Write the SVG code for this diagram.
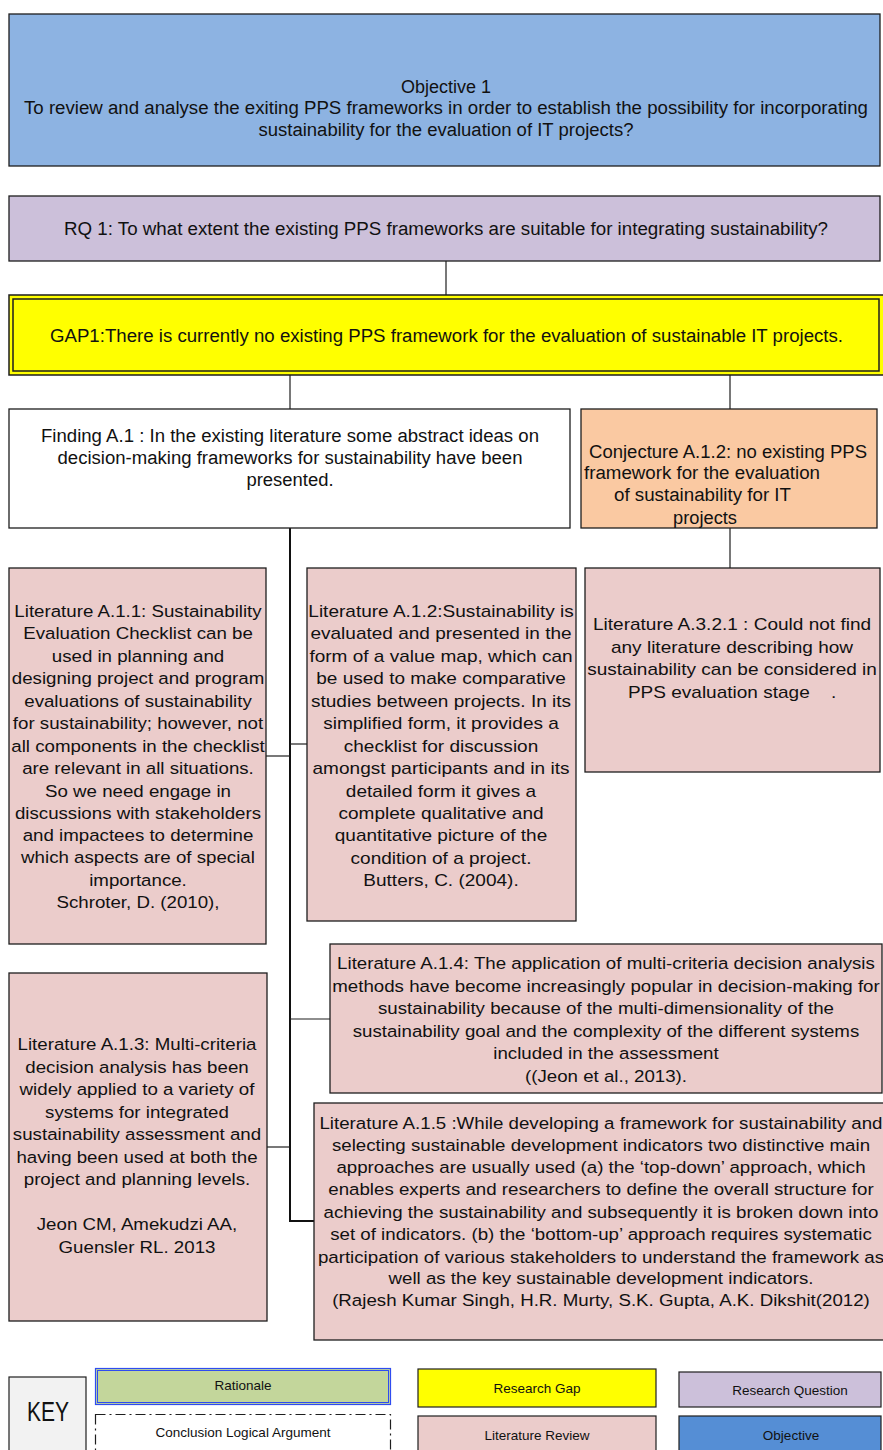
<svg xmlns="http://www.w3.org/2000/svg" width="883" height="1450" viewBox="0 0 883 1450">
  <style>
    .box { stroke: #1e1e1e; stroke-width: 1.3; }
    .obj { fill: #8db3e2; }
    .rq { fill: #ccc0da; }
    .gap { fill: #ffff00; }
    .find { fill: #ffffff; }
    .conj { fill: #fac9a2; }
    .lit { fill: #ebcccb; }
    .narrow { font-family: "Liberation Sans", Arial, sans-serif; font-size: 18px; fill: #111; }
    .t { font-family: "Liberation Sans", Arial, sans-serif; font-size: 17px; fill: #111; }
    .k { font-family: "Liberation Sans", Arial, sans-serif; font-size: 13.5px; fill: #111; text-anchor: middle; }
    .c { text-anchor: middle; }
    .conn { stroke: #1e1e1e; stroke-width: 1.2; fill: none; }
    .trunk { stroke: #111; stroke-width: 2; fill: none; }
  </style>

  <!-- connectors -->
  <g id="connectors">
    <line class="conn" x1="446" y1="261" x2="446" y2="295"/>
    <line class="conn" x1="290" y1="375" x2="290" y2="409"/>
    <line class="conn" x1="730" y1="375" x2="730" y2="409"/>
    <line class="conn" x1="730" y1="528" x2="730" y2="568"/>
    <polyline class="trunk" points="290,528 290,1221 314,1221"/>
    <line class="conn" x1="266" y1="756" x2="290" y2="756"/>
    <line class="conn" x1="290" y1="744" x2="307" y2="744"/>
    <line class="conn" x1="290" y1="1019" x2="330" y2="1019"/>
    <line class="conn" x1="266" y1="1147" x2="290" y2="1147"/>
  </g>

  <!-- objective -->
  <g id="objective1">
    <rect class="box obj" x="9" y="14" width="871" height="152"/>
    <text class="narrow c" x="446" y="93" textLength="90" lengthAdjust="spacingAndGlyphs">Objective 1</text>
    <text class="narrow c" x="446" y="114" textLength="844" lengthAdjust="spacingAndGlyphs">To review and analyse the exiting PPS frameworks in order to establish the possibility for incorporating</text>
    <text class="narrow c" x="446" y="136" textLength="375" lengthAdjust="spacingAndGlyphs">sustainability for the evaluation of IT projects?</text>
  </g>

  <!-- research question -->
  <g id="rq1">
    <rect class="box rq" x="9" y="196" width="871" height="65"/>
    <text class="narrow c" x="446" y="235" textLength="764" lengthAdjust="spacingAndGlyphs">RQ 1: To what extent the existing PPS frameworks are suitable for integrating sustainability?</text>
  </g>

  <!-- research gap -->
  <g id="gap1">
    <rect class="gap" x="9" y="295" width="876" height="80" stroke="#1e1e1e" stroke-width="1.5"/>
    <rect x="13" y="299" width="866" height="72" fill="none" stroke="#1e1e1e" stroke-width="1.5"/>
    <text class="narrow c" x="446.5" y="342" textLength="793" lengthAdjust="spacingAndGlyphs">GAP1:There is currently no existing PPS framework for the evaluation of sustainable IT projects.</text>
  </g>

  <!-- finding -->
  <g id="findingA1">
    <rect class="box find" x="9" y="409" width="561" height="119"/>
    <text class="narrow c" x="290" y="442" textLength="498" lengthAdjust="spacingAndGlyphs">Finding A.1 : In the existing literature some abstract ideas on</text>
    <text class="narrow c" x="290" y="464" textLength="465" lengthAdjust="spacingAndGlyphs">decision-making frameworks for sustainability have been</text>
    <text class="narrow c" x="290" y="486" textLength="87" lengthAdjust="spacingAndGlyphs">presented.</text>
  </g>

  <!-- conjecture -->
  <g id="conjectureA12">
    <rect class="box conj" x="581" y="409" width="296" height="119"/>
    <text class="narrow" x="589" y="458" textLength="278" lengthAdjust="spacingAndGlyphs">Conjecture A.1.2: no existing PPS</text>
    <text class="narrow" x="584" y="479" textLength="236" lengthAdjust="spacingAndGlyphs">framework for the evaluation</text>
    <text class="narrow" x="614" y="501" textLength="177" lengthAdjust="spacingAndGlyphs">of sustainability for IT</text>
    <text class="narrow" x="673" y="524" textLength="64" lengthAdjust="spacingAndGlyphs">projects</text>
  </g>

  <!-- literature A.1.1 -->
  <g id="litA11">
    <rect class="box lit" x="9" y="568" width="257" height="376"/>
    <g class="t c" transform="matrix(1.1,0,0,1,-13.8,0)">
      <text x="138" y="617">Literature A.1.1: Sustainability</text>
      <text x="138" y="639">Evaluation Checklist can be</text>
      <text x="138" y="662">used in planning and</text>
      <text x="138" y="684">designing project and program</text>
      <text x="138" y="707">evaluations of sustainability</text>
      <text x="138" y="729">for sustainability; however, not</text>
      <text x="138" y="752">all components in the checklist</text>
      <text x="138" y="774">are relevant in all situations.</text>
      <text x="138" y="797">So we need engage in</text>
      <text x="138" y="819">discussions with stakeholders</text>
      <text x="138" y="841">and impactees to determine</text>
      <text x="138" y="863">which aspects are of special</text>
      <text x="138" y="886">importance.</text>
      <text x="138" y="908">Schroter, D. (2010),</text>
    </g>
  </g>

  <!-- literature A.1.2 -->
  <g id="litA12">
    <rect class="box lit" x="307" y="568" width="269" height="353"/>
    <g class="t c" transform="matrix(1.12,0,0,1,-52.9,0)">
      <text x="441" y="617">Literature A.1.2:Sustainability is</text>
      <text x="441" y="639">evaluated and presented in the</text>
      <text x="441" y="662">form of a value map, which can</text>
      <text x="441" y="684">be used to make comparative</text>
      <text x="441" y="707">studies between projects. In its</text>
      <text x="441" y="729">simplified form, it provides a</text>
      <text x="441" y="752">checklist for discussion</text>
      <text x="441" y="774">amongst participants and in its</text>
      <text x="441" y="797">detailed form it gives a</text>
      <text x="441" y="819">complete qualitative and</text>
      <text x="441" y="841">quantitative picture of the</text>
      <text x="441" y="864">condition of a project.</text>
      <text x="441" y="886">Butters, C. (2004).</text>
    </g>
  </g>

  <!-- literature A.3.2.1 -->
  <g id="litA321">
    <rect class="box lit" x="585" y="568" width="295" height="204"/>
    <g class="t c" transform="matrix(1.12,0,0,1,-87.8,0)">
      <text x="732" y="630">Literature A.3.2.1 : Could not find</text>
      <text x="732" y="653">any literature describing how</text>
      <text x="732" y="675">sustainability can be considered in</text>
      <text x="732" y="698">PPS evaluation stage&#160;&#160;&#160; .</text>
    </g>
  </g>

  <!-- literature A.1.4 -->
  <g id="litA14">
    <rect class="box lit" x="330" y="944" width="552" height="149"/>
    <g class="t c" transform="matrix(1.1,0,0,1,-60.6,0)">
      <text x="606" y="969">Literature A.1.4: The application of multi-criteria decision analysis</text>
      <text x="606" y="992">methods have become increasingly popular in decision-making for</text>
      <text x="606" y="1014">sustainability because of the multi-dimensionality of the</text>
      <text x="606" y="1037">sustainability goal and the complexity of the different systems</text>
      <text x="606" y="1059">included in the assessment</text>
      <text x="606" y="1082">((Jeon et al., 2013).</text>
    </g>
  </g>

  <!-- literature A.1.5 -->
  <g id="litA15">
    <rect class="box lit" x="314" y="1103" width="574" height="237"/>
    <g class="t c" transform="matrix(1.1,0,0,1,-60.1,0)">
      <text x="601" y="1129">Literature A.1.5 :While developing a framework for sustainability and</text>
      <text x="601" y="1151">selecting sustainable development indicators two distinctive main</text>
      <text x="601" y="1173">approaches are usually used (a) the ‘top-down’ approach, which</text>
      <text x="601" y="1195">enables experts and researchers to define the overall structure for</text>
      <text x="601" y="1218">achieving the sustainability and subsequently it is broken down into</text>
      <text x="601" y="1240">set of indicators. (b) the ‘bottom-up’ approach requires systematic</text>
      <text x="601" y="1263">participation of various stakeholders to understand the framework as</text>
      <text x="601" y="1284">well as the key sustainable development indicators.</text>
      <text x="601" y="1306">(Rajesh Kumar Singh, H.R. Murty, S.K. Gupta, A.K. Dikshit(2012)</text>
    </g>
  </g>

  <!-- literature A.1.3 -->
  <g id="litA13">
    <rect class="box lit" x="9" y="973" width="258" height="348"/>
    <g class="t c" transform="matrix(1.1,0,0,1,-13.7,0)">
      <text x="137" y="1050">Literature A.1.3: Multi-criteria</text>
      <text x="137" y="1073">decision analysis has been</text>
      <text x="137" y="1095">widely applied to a variety of</text>
      <text x="137" y="1118">systems for integrated</text>
      <text x="137" y="1140">sustainability assessment and</text>
      <text x="137" y="1163">having been used at both the</text>
      <text x="137" y="1185">project and planning levels.</text>
      <text x="137" y="1230">Jeon CM, Amekudzi AA,</text>
      <text x="137" y="1253">Guensler RL. 2013</text>
    </g>
  </g>

  <!-- key -->
  <g id="key">
    <rect x="9" y="1377" width="77" height="80" fill="#f2f2f2" stroke="#1e1e1e" stroke-width="1.2"/>
    <text class="narrow c" style="font-size:28px" x="48" y="1421" textLength="42" lengthAdjust="spacingAndGlyphs">KEY</text>
  </g>
  <g id="key-rationale">
    <rect x="95.5" y="1368.5" width="295" height="36" fill="#c3d69b" stroke="#2f4cf0" stroke-width="1.2"/>
    <rect x="97.5" y="1370.5" width="291" height="32" fill="none" stroke="#2f4cf0" stroke-width="1"/>
    <text class="k" x="243" y="1390">Rationale</text>
  </g>
  <g id="key-conclusion">
    <rect x="95.5" y="1414.5" width="295" height="50" fill="#ffffff" stroke="#1e1e1e" stroke-width="1.2" stroke-dasharray="10,4,2,4"/>
    <text class="k" x="243" y="1437">Conclusion Logical Argument</text>
  </g>
  <g id="key-gap">
    <rect x="418" y="1369" width="238" height="38" fill="#ffff00" stroke="#1e1e1e" stroke-width="1.2"/>
    <text class="k" x="537" y="1393">Research Gap</text>
  </g>
  <g id="key-literature">
    <rect x="418" y="1416" width="238" height="50" fill="#ebcccb" stroke="#1e1e1e" stroke-width="1.2"/>
    <text class="k" x="537" y="1440">Literature Review</text>
  </g>
  <g id="key-rq">
    <rect x="679" y="1372" width="202" height="35" fill="#ccc0da" stroke="#1e1e1e" stroke-width="1.2"/>
    <text class="k" x="790" y="1395">Research Question</text>
  </g>
  <g id="key-objective">
    <rect x="679" y="1416" width="202" height="50" fill="#558ed5" stroke="#1e1e1e" stroke-width="1.2"/>
    <text class="k" x="791" y="1440">Objective</text>
  </g>
</svg>
